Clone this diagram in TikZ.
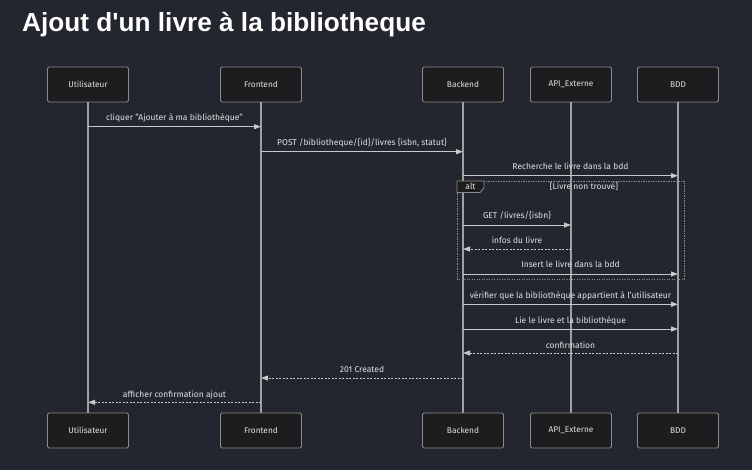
\documentclass[tikz,border=0pt]{standalone}
\usepackage{fontspec}
\setmainfont{Fira Sans}
\newfontfamily\titlefont{Liberation Sans}
\usetikzlibrary{arrows.meta}
\definecolor{bg}{HTML}{23262F}
\definecolor{boxfill}{HTML}{1D1D1F}
\definecolor{boxline}{HTML}{8A8A8A}
\definecolor{txt}{HTML}{E2E2E2}
\definecolor{lifec}{HTML}{A0A0A0}
\definecolor{msgc}{HTML}{C8C8C8}
\begin{document}
\begin{tikzpicture}[x=1pt,y=-1pt,
  actorbox/.style={draw=boxline, fill=boxfill, rounded corners=1.5pt, line width=0.9pt,
    minimum width=81pt, minimum height=35pt, inner sep=0pt, text=txt, font=\fontsize{8.3}{9}\selectfont},
  life/.style={draw=lifec, line width=1.3pt},
  msg/.style={draw=msgc, line width=0.9pt, -{Triangle[length=7pt,width=5pt]}},
  reply/.style={msg, dash pattern=on 2pt off 1.5pt},
  lbl/.style={text=txt, font=\fontsize{8.5}{9}\selectfont, inner sep=0pt, anchor=base}
]
\fill[bg] (0,0) rectangle (752,470);
\useasboundingbox (0,0) rectangle (752,470);

\node[anchor=base west, text=white, inner sep=0pt, font=\titlefont\bfseries\fontsize{26.2}{30}\selectfont] (title) at (22,32) {Ajout d'un livre à la bibliotheque};

% top actors
\node[actorbox] (u1) at (88,84.5) {Utilisateur};
\node[actorbox] (f1) at (261,84.5) {Frontend};
\node[actorbox] (b1) at (463,84.5) {Backend};
\node[actorbox] (a1) at (571,84.5) {API\_Externe};
\node[actorbox] (d1) at (678,84.5) {BDD};
% bottom actors
\node[actorbox] (u2) at (88,430.5) {Utilisateur};
\node[actorbox] (f2) at (261,430.5) {Frontend};
\node[actorbox] (b2) at (463,430.5) {Backend};
\node[actorbox] (a2) at (571,430.5) {API\_Externe};
\node[actorbox] (d2) at (678,430.5) {BDD};

% lifelines
\draw[life] (u1.south) -- (u2.north);
\draw[life] (f1.south) -- (f2.north);
\draw[life] (b1.south) -- (b2.north);
\draw[life] (a1.south) -- (a2.north);
\draw[life] (d1.south) -- (d2.north);

% alt frame
\draw[boxline, line width=0.9pt, dash pattern=on 1.2pt off 1.3pt] (457,181) rectangle (684,279);
\draw[boxline, line width=0.9pt, fill=boxfill] (457,181) -- (484,181) -- (484,188) -- (480,192.5) -- (457,192.5) -- cycle;
\node[lbl] (altlbl) at (470.5,190) {alt};
\node[lbl] (cond) at (584,190) {[Livre non trouvé]};

% messages
\draw[msg] (u1.south |- 0,126.7) -- (f1.south |- 0,126.7);
\node[lbl] (l1) at (174.5,121) {cliquer "Ajouter à ma bibliothèque"};

\draw[msg] (f1.south |- 0,151.7) -- (b1.south |- 0,151.7);
\node[lbl] (l2) at (362,146) {POST /bibliotheque/\{id\}/livres \{isbn, statut\}};

\draw[msg] (b1.south |- 0,175.7) -- (d1.south |- 0,175.7);
\node[lbl] (l3) at (570.5,170) {Recherche le livre dans la bdd};

\draw[msg] (b1.south |- 0,225) -- (a1.south |- 0,225);
\node[lbl] (l4) at (517,219) {GET /livres/\{isbn\}};

\draw[reply] (a1.south |- 0,249) -- (b1.south |- 0,249);
\node[lbl] (l5) at (517,244) {infos du livre};

\draw[msg] (b1.south |- 0,274) -- (d1.south |- 0,274);
\node[lbl] (l6) at (570.5,268) {Insert le livre dans la bdd};

\draw[msg] (b1.south |- 0,304.3) -- (d1.south |- 0,304.3);
\node[lbl] (l7) at (570.5,298.5) {vérifier que la bibliothèque appartient à l'utilisateur};

\draw[msg] (b1.south |- 0,329) -- (d1.south |- 0,329);
\node[lbl] (l8) at (570.5,323.5) {Lie le livre et la bibliothèque};

\draw[reply] (d1.south |- 0,353) -- (b1.south |- 0,353);
\node[lbl] (l9) at (570.5,348) {confirmation};

\draw[reply] (b1.south |- 0,378) -- (f1.south |- 0,378);
\node[lbl] (l10) at (362,372.5) {201 Created};

\draw[reply] (f1.south |- 0,402.3) -- (u1.south |- 0,402.3);
\node[lbl] (l11) at (174.5,397) {afficher confirmation ajout};
\end{tikzpicture}
\end{document}
